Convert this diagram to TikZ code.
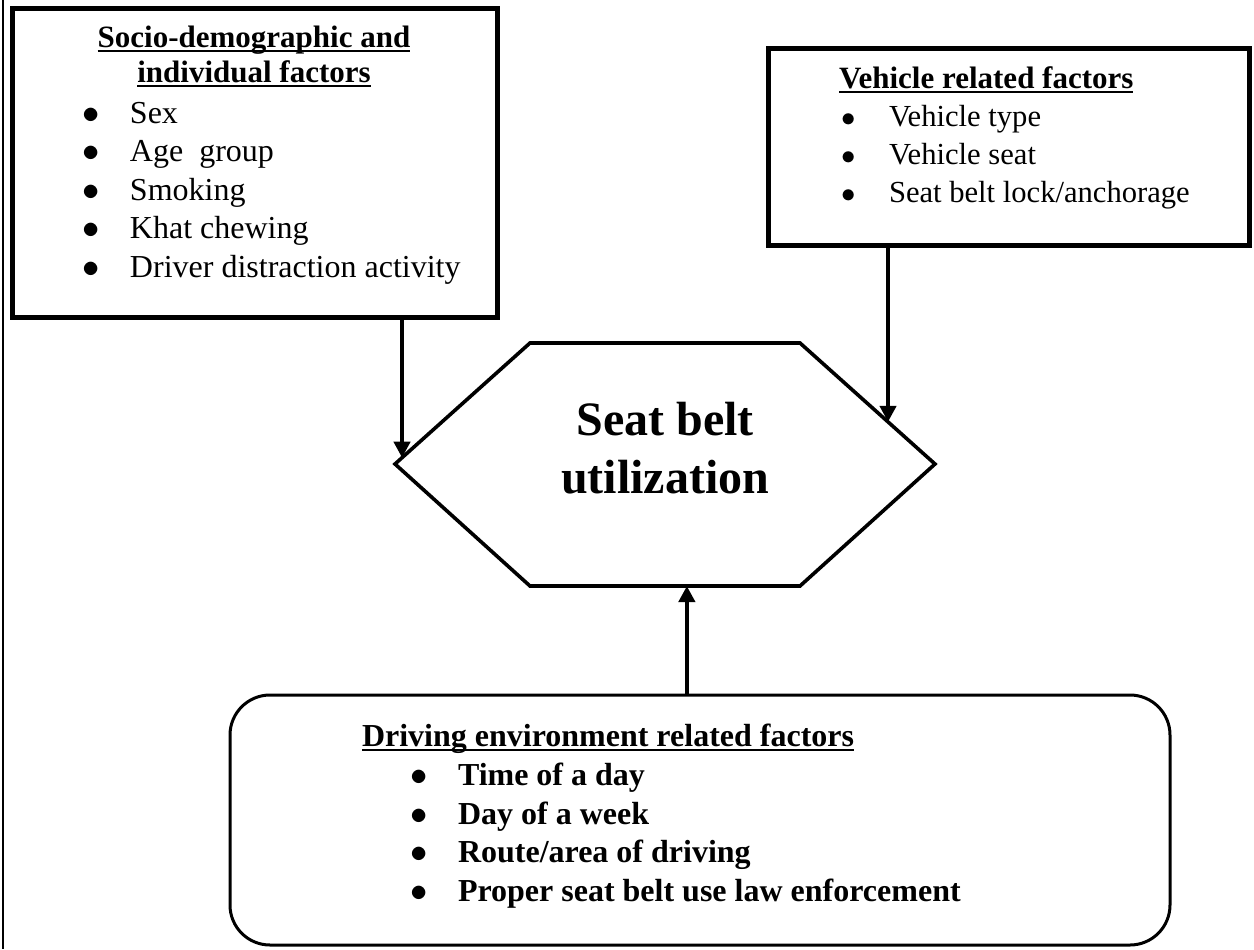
\documentclass[tikz,border=0pt]{standalone}
\usepackage{fontspec}
\setmainfont{Liberation Serif}
\usetikzlibrary{arrows.meta,positioning,calc}

\newcommand{\ulword}[1]{\setbox0\hbox{#1}\rlap{\rule[-2.6pt]{\wd0}{1.1pt}}\box0}
\newcommand{\itm}[1]{\makebox[24pt][l]{$\bullet$}#1}

\begin{document}
\begin{tikzpicture}[
    x=0.5pt, y=-0.5pt,
    every node/.style={inner sep=0pt, outer sep=0pt},
    box/.style={draw, line width=2.5pt},
    envbox/.style={draw, line width=1.5pt, rounded corners=20pt},
    hexline/.style={line width=1.8pt, line join=miter},
    heading/.style={font=\fontsize{15.5}{17.5}\selectfont\bfseries},
    items/.style={align=left, anchor=base west, font=\fontsize{16}{19.25}\selectfont},
    arr/.style={-{Triangle[length=8pt,width=8pt]}, line width=2.2pt}
]
\useasboundingbox (0,0) rectangle (1254,949);

% left frame line
\draw[line width=0.8pt] (3,0) coordinate (ftop) -- (3,949) coordinate (fbot);

% Boxes
\node[box, minimum width=242.5pt, minimum height=154.5pt] (socio) at (254.5,162.5) {};
\node[box, minimum width=240.5pt, minimum height=98.5pt] (vehicle) at (1008.5,146.5) {};
\node[envbox, minimum width=470pt, minimum height=125pt] (env) at (700,820) {};

% Hexagon
\coordinate (hl) at (395,464);
\coordinate (htl) at (530,343);
\coordinate (htr) at (800,343);
\coordinate (hr) at (935,464);
\coordinate (hbr) at (800,586);
\coordinate (hbl) at (530,586);
\draw[hexline] (hl) -- (htl) -- (htr) -- (hr) -- (hbr) -- (hbl) -- cycle;
% (base = last line)
\node[font=\fontsize{24}{29}\selectfont\bfseries, align=center, anchor=base] (seatbelt) at (665,493) {Seat belt\\utilization};

% Socio-demographic
\node[heading, align=center, anchor=base] (sociohead) at (254,82) {\ulword{Socio-demographic and}\\\ulword{individual factors}};
\node[items] (sociolist) at (82,277) {\itm{Sex}\\\itm{Age\ \ group}\\\itm{Smoking}\\\itm{Khat chewing}\\\itm{Driver distraction activity}};

% Vehicle
\node[heading, anchor=base west] (vehhead) at (839,88) {\ulword{Vehicle related factors}};
\node[items, font=\fontsize{15.3}{19}\selectfont] (vehlist) at (841,202) {\itm{Vehicle type}\\\itm{Vehicle seat}\\\itm{Seat belt lock/anchorage}};

% Driving environment
\node[heading, font=\fontsize{16}{19}\selectfont\bfseries, anchor=base west] (envhead) at (362,746) {\ulword{Driving environment related factors}};
\node[items, font=\fontsize{16}{19.25}\selectfont\bfseries] (envlist) at (410,901) {\itm{Time of a day}\\\itm{Day of a week}\\\itm{Route/area of driving}\\\itm{Proper seat belt use law enforcement}};

% Connections
\coordinate (leftin) at ($(hl)!0.052!(htl)$);
\coordinate (rightin) at ($(htr)!0.652!(hr)$);
\coordinate (botin) at ($(hbl)!0.581!(hbr)$);
\draw[arr] (socio.south -| leftin) -- (leftin);
\draw[arr] (vehicle.south -| rightin) -- (rightin);
\draw[arr] (env.north -| botin) -- (botin);

\end{tikzpicture}
\end{document}
